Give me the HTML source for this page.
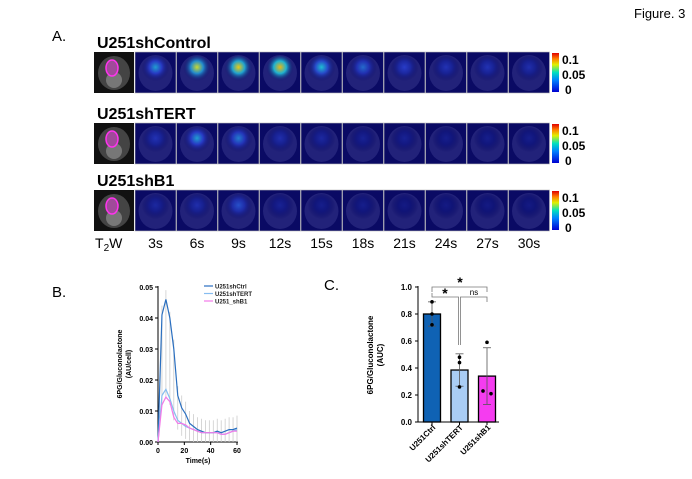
<!DOCTYPE html>
<html><head><meta charset="utf-8"><style>
body{margin:0;background:#fff;font-family:"Liberation Sans",Arial,sans-serif;}
#root{position:relative;width:692px;height:479px;overflow:hidden;background:#fff}
.t{position:absolute;white-space:nowrap}
</style></head><body>
<div id="root">
<div class="t" style="left:634px;top:6px;font-size:13px">Figure. 3</div>
<div class="t" style="left:52px;top:28px;font-size:15px">A.</div>
<svg id="imgs" width="692" height="260" style="position:absolute;left:0;top:0"></svg>
<div class="t" style="left:52px;top:284px;font-size:15px">B.</div>
<div class="t" style="left:324px;top:277px;font-size:15px">C.</div>
<svg id="chartB" width="692" height="479" style="position:absolute;left:0;top:0"></svg>
</div>
<script>
// ---- Panel A data ----
const rowNames=["U251shControl","U251shTERT","U251shB1"];
const timeLabels=["3s","6s","9s","12s","15s","18s","21s","24s","27s","30s"];
const rowIntensity=[[0.4,0.62,0.68,0.72,0.45,0.32,0.25,0.2,0.2,0.18],[0.2,0.4,0.35,0.18,0.15,0.12,0.12,0.1,0.1,0.1],[0.15,0.18,0.28,0.12,0.1,0.1,0.08,0.08,0.08,0.08]];
// ---- Panel B data ----
const times=[0,3,6,9,12,15,18,21,24,27,30,33,36,39,42,45,48,51,54,57,60];
const ctrl=[0,0.041,0.046,0.040,0.030,0.015,0.011,0.009,0.006,0.005,0.004,0.0035,0.003,0.003,0.003,0.0035,0.003,0.0035,0.004,0.004,0.0045];
const tert=[0,0.015,0.017,0.014,0.010,0.007,0.006,0.005,0.0045,0.004,0.0035,0.003,0.003,0.003,0.003,0.003,0.0025,0.0025,0.003,0.0035,0.004];
const b1=[0,0.012,0.0145,0.013,0.008,0.006,0.006,0.0055,0.0045,0.004,0.0035,0.003,0.003,0.003,0.003,0.003,0.0025,0.0025,0.003,0.0035,0.0035];
const errB=[0,0.003,0.003,0.002,0.003,0.003,0.004,0.004,0.004,0.004,0.004,0.004,0.004,0.004,0.004,0.004,0.004,0.004,0.004,0.004,0.004];
const yTicksB=[0,0.01,0.02,0.03,0.04,0.05];
const xTicksB=[0,20,40,60];
// ---- Panel C data ----
const groups=["U251Ctrl","U251shTERT","U251shB1"];
const means=[0.80,0.385,0.34];
const sds=[0.09,0.12,0.21];
const pts=[[0.89,0.80,0.72],[0.48,0.44,0.26],[0.59,0.23,0.21]];
const yTicksC=[0,0.2,0.4,0.6,0.8,1.0];
const barColors=["#0f62b4","#a9cdf5","#f53cf0"];

const NS="http://www.w3.org/2000/svg";
function mk(p,tag,a,txt){const e=document.createElementNS(NS,tag);for(const k in a)e.setAttribute(k,a[k]);if(txt!==undefined)e.textContent=txt;p.appendChild(e);return e;}

// Panel A
const A=document.getElementById('imgs');
const defs=mk(A,'defs',{});
function heatColor(v){const stops=[[0,[10,10,100]],[0.25,[40,60,200]],[0.45,[30,190,210]],[0.65,[230,220,20]],[0.85,[240,110,20]],[1,[220,0,0]]];
 for(let i=1;i<stops.length;i++){if(v<=stops[i][0]){const a=stops[i-1],b=stops[i],t=(v-a[0])/(b[0]-a[0]);return 'rgb('+a[1].map((c,j)=>Math.round(c+(b[1][j]-c)*t)).join(',')+')';}}return 'rgb(220,0,0)';}
const rowY=[52,123,190];
const titleY=[48,119,186];
rowIntensity.forEach((row,r)=>{
 const tt=mk(A,'text',{x:97,y:titleY[r],'font-size':16,'font-weight':'bold','font-family':'Liberation Sans'},rowNames[r]);
 
 const y=rowY[r];
 mk(A,'rect',{x:94,y:y,width:40,height:41,fill:'#111'});
 mk(A,'ellipse',{cx:114,cy:y+21,rx:16,ry:17,fill:'#444'});
 mk(A,'ellipse',{cx:114,cy:y+28,rx:8,ry:8,fill:'#777'});
 mk(A,'ellipse',{cx:112,cy:y+16,rx:6,ry:8,fill:'#a04a9a',stroke:'#ff33ee','stroke-width':1.5});
 row.forEach((v,i)=>{
  const x=135+i*41.5;
  const g=mk(defs,'radialGradient',{id:'g'+r+'_'+i,cx:'50%',cy:'40%',r:'50%'});
  mk(g,'stop',{offset:'0%','stop-color':heatColor(v)});
  mk(g,'stop',{offset:'45%','stop-color':heatColor(v*0.6)});
  mk(g,'stop',{offset:'100%','stop-color':'#0a0a64','stop-opacity':0});
  const tile=mk(A,'rect',{x:x,y:y,width:41,height:41,fill:'#0a0a64',stroke:'#bbb','stroke-width':0.6});
  
  mk(A,'ellipse',{cx:x+20.5,cy:y+21,rx:17,ry:18,fill:'#3a3a90',opacity:0.5});
  mk(A,'ellipse',{cx:x+20.5,cy:y+18,rx:14,ry:14,fill:'url(#g'+r+'_'+i+')'});
 });
 const cg=mk(defs,'linearGradient',{id:'cb'+r,x1:0,y1:1,x2:0,y2:0});
 [[0,'#0000d0'],[0.3,'#0080ff'],[0.5,'#00e0c0'],[0.7,'#e0f000'],[0.85,'#ff8000'],[1,'#e00000']].forEach(s=>mk(cg,'stop',{offset:s[0],'stop-color':s[1]}));
 mk(A,'rect',{x:552,y:y+1,width:7,height:39,fill:'url(#cb'+r+')'});
 mk(A,'text',{x:562,y:y+12,'font-size':12,'font-weight':'bold'},'0.1');
 mk(A,'text',{x:562,y:y+27,'font-size':12,'font-weight':'bold'},'0.05');
 mk(A,'text',{x:565,y:y+42,'font-size':12,'font-weight':'bold'},'0');
});
const t2=mk(A,'text',{x:95,y:248,'font-size':14},'');
t2.innerHTML='T<tspan font-size="10" dy="3">2</tspan><tspan dy="-3">W</tspan>';
timeLabels.forEach((l,i)=>{const e=mk(A,'text',{x:135+i*41.5+20.5,y:248,'font-size':14,'text-anchor':'middle'},l);
 });

// Panel B
const S=document.getElementById('chartB');
const bx=v=>158+v/60*79, by=v=>442-v/0.05*155;
mk(S,'line',{x1:158,y1:286,x2:158,y2:442,stroke:'#000','stroke-width':1});
mk(S,'line',{x1:158,y1:442,x2:238,y2:442,stroke:'#000','stroke-width':1});
yTicksB.forEach(t=>{mk(S,'line',{x1:155,x2:158,y1:by(t),y2:by(t),stroke:'#000'});
 mk(S,'text',{x:153,y:by(t)+3,'font-size':7,'font-weight':'bold','text-anchor':'end'},t.toFixed(2));});
xTicksB.forEach(t=>{mk(S,'line',{x1:bx(t),x2:bx(t),y1:442,y2:445,stroke:'#000'});
 mk(S,'text',{x:bx(t),y:453,'font-size':7,'font-weight':'bold','text-anchor':'middle'},t);});
mk(S,'text',{x:198,y:463,'font-size':7,'font-weight':'bold','text-anchor':'middle'},'Time(s)');
mk(S,'text',{transform:'translate(122,364) rotate(-90)','font-size':7,'font-weight':'bold','text-anchor':'middle'},'6PG/Gluconolactone');
mk(S,'text',{transform:'translate(131,364) rotate(-90)','font-size':7,'font-weight':'bold','text-anchor':'middle'},'(AU/cell)');
times.forEach((t,i)=>{const e=errB[i];if(!e)return;mk(S,'line',{x1:bx(t),x2:bx(t),y1:by(ctrl[i]+e),y2:by(Math.max(0,tert[i]-e)),stroke:'#ccc','stroke-width':0.8});});
[[ctrl,'#2a6fc0','series-ctrl'],[tert,'#86bdf0','series-tert'],[b1,'#f27ae8','series-b1']].forEach(([d,c,n])=>{
 const p=mk(S,'polyline',{points:times.map((t,i)=>bx(t)+','+by(d[i])).join(' '),fill:'none',stroke:c,'stroke-width':1.2});
 });
[['U251shCtrl','#2a6fc0'],['U251shTERT','#86bdf0'],['U251_shB1','#f27ae8']].forEach(([l,c],i)=>{
 const y=286+i*7.5;mk(S,'line',{x1:204,x2:213,y1:y,y2:y,stroke:c,'stroke-width':1.2});
 mk(S,'text',{x:215,y:y+2.5,'font-size':6,'font-weight':'bold',fill:'#222'},l);});

// Panel C
const cy=v=>422-v*135;
const cx=i=>432+i*27.5;
mk(S,'line',{x1:418,y1:286,x2:418,y2:422,stroke:'#000'});
mk(S,'line',{x1:418,y1:422,x2:499,y2:422,stroke:'#000'});
yTicksC.forEach(t=>{mk(S,'line',{x1:415,x2:418,y1:cy(t),y2:cy(t),stroke:'#000'});
 mk(S,'text',{x:412,y:cy(t)+3,'font-size':8,'font-weight':'bold','text-anchor':'end'},t.toFixed(1));});
mk(S,'text',{transform:'translate(373,355) rotate(-90)','font-size':8,'font-weight':'bold','text-anchor':'middle'},'6PG/Gluconolactone');
mk(S,'text',{transform:'translate(383,355) rotate(-90)','font-size':8,'font-weight':'bold','text-anchor':'middle'},'(AUC)');
groups.forEach((g,i)=>{
 const b=mk(S,'rect',{x:cx(i)-8.5,y:cy(means[i]),width:17,height:cy(0)-cy(means[i]),fill:barColors[i],stroke:'#000','stroke-width':1.3});
 
 mk(S,'line',{x1:cx(i),x2:cx(i),y1:cy(means[i]+sds[i]),y2:cy(means[i]-sds[i]),stroke:'#555','stroke-width':0.8});
 mk(S,'line',{x1:cx(i)-4,x2:cx(i)+4,y1:cy(means[i]+sds[i]),y2:cy(means[i]+sds[i]),stroke:'#555','stroke-width':0.8});
 mk(S,'line',{x1:cx(i)-4,x2:cx(i)+4,y1:cy(means[i]-sds[i]),y2:cy(means[i]-sds[i]),stroke:'#555','stroke-width':0.8});
 pts[i].forEach((p,j)=>mk(S,'circle',{cx:cx(i)+(i==2?[0,-4,4][j]:0),cy:cy(p),r:1.8,fill:'#000'}));
 mk(S,'line',{x1:cx(i),x2:cx(i),y1:422,y2:425,stroke:'#000'});
 mk(S,'text',{transform:'translate('+(cx(i)+4)+',428) rotate(-45)','font-size':8,'font-weight':'bold','text-anchor':'end'},g);
});
mk(S,'polyline',{points:`${cx(0)},292 ${cx(0)},287 ${cx(2)},287 ${cx(2)},292`,fill:'none',stroke:'#777','stroke-width':0.8});
mk(S,'polyline',{points:`${cx(0)},293 ${cx(0)},297 ${cx(1)-1},297 ${cx(1)-1},345`,fill:'none',stroke:'#777','stroke-width':0.8});
mk(S,'polyline',{points:`${cx(1)+1},345 ${cx(1)+1},297 ${cx(2)},297 ${cx(2)},302`,fill:'none',stroke:'#777','stroke-width':0.8});
mk(S,'text',{x:460,y:287,'font-size':14,'font-weight':'bold','text-anchor':'middle'},'*');
mk(S,'text',{x:445,y:298,'font-size':14,'font-weight':'bold','text-anchor':'middle'},'*');
mk(S,'text',{x:474,y:295,'font-size':8,'text-anchor':'middle'},'ns');
</script>
</body></html>
